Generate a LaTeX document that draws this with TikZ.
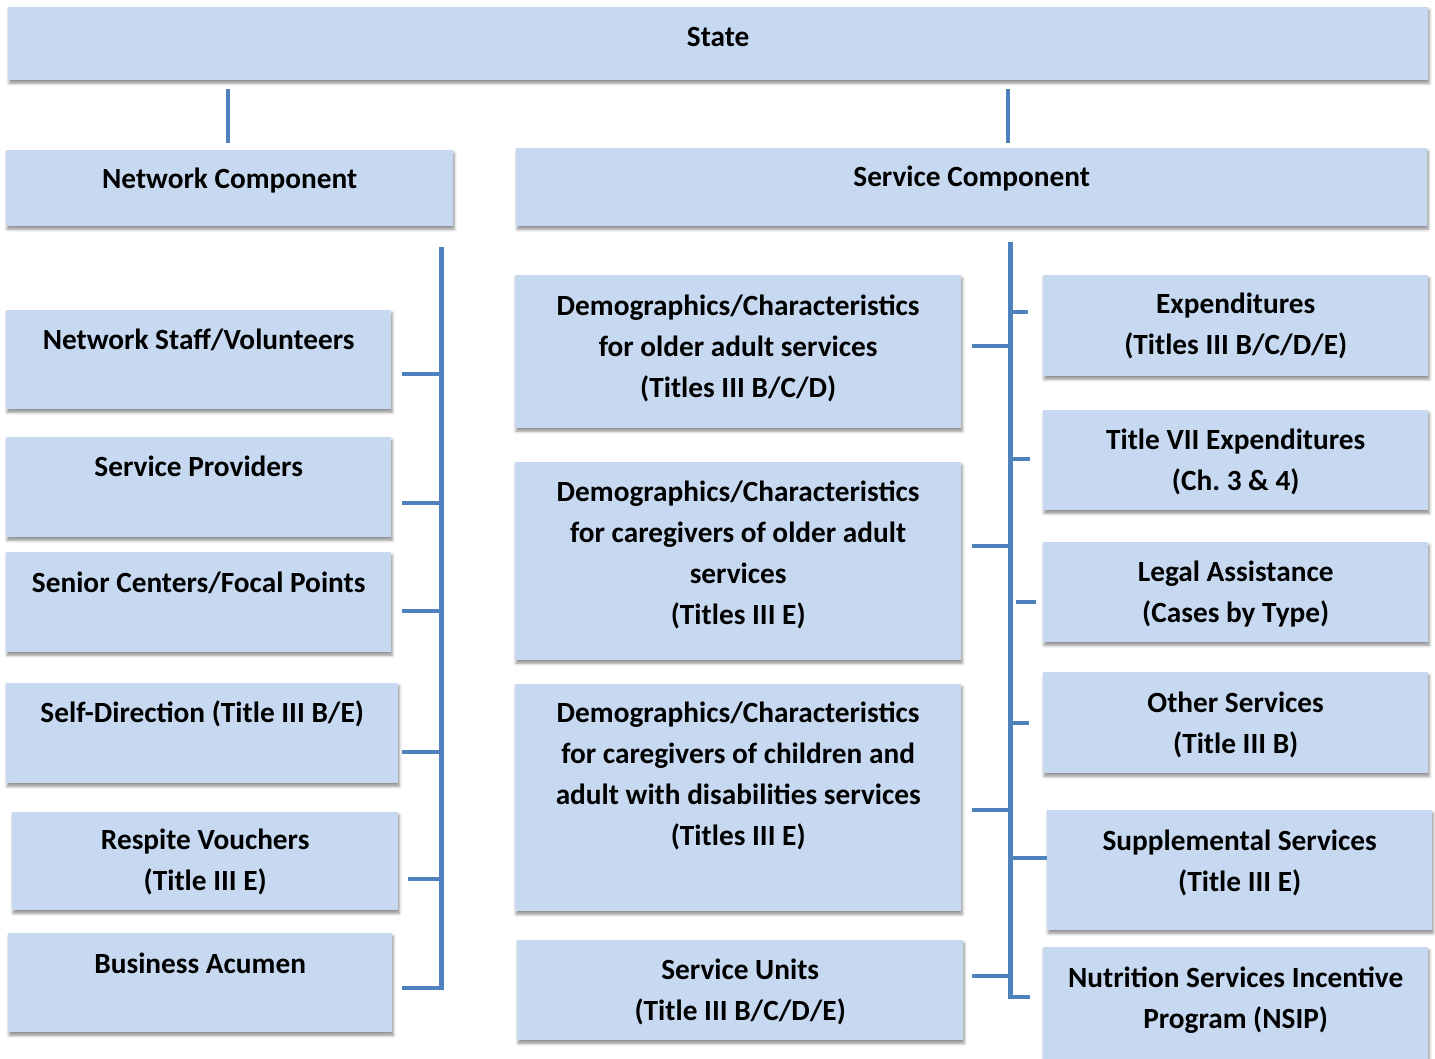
\documentclass[tikz,border=0pt]{standalone}
\usepackage{fontspec}
\setmainfont{Carlito}
\usepackage{xcolor}
\usetikzlibrary{positioning,calc,shadows.blur}
\definecolor{boxblue}{HTML}{C6D9F1}
\definecolor{linkblue}{HTML}{4F81BD}
\tikzset{
  box/.style={fill=boxblue, anchor=north west, inner sep=0pt,
    blur shadow={shadow xshift=1pt, shadow yshift=-3pt, shadow blur radius=3pt, shadow opacity=45}},
  lbl/.style={anchor=base, align=center, inner sep=0pt, font=\fontsize{29.3}{41}\selectfont\bfseries},
  link/.style={draw=linkblue, line width=4pt},
  bus/.style={draw=linkblue, line width=5pt}
}

\begin{document}
\begin{tikzpicture}[x=1pt,y=-1pt]
    \useasboundingbox (0,0) rectangle (1435,1059);

    % Top level
    \node[box, minimum width=1420pt, minimum height=73pt] (state) at (8,7) {};
    \node[lbl] (state-t) at ([yshift=-40pt]state.north) {State};

    \node[box, minimum width=447pt, minimum height=76pt] (net) at (6,150) {};
    \node[lbl] (net-t) at ([yshift=-39pt]net.north) {Network Component};
    \node[box, minimum width=911pt, minimum height=78pt] (serv) at (516,148) {};
    \node[lbl] (serv-t) at ([yshift=-39pt]serv.north) {Service Component};

    % Network column
    \node[box, minimum width=385pt, minimum height=99pt] (staff) at (6,310) {};
    \node[lbl] (staff-t) at ([yshift=-39pt]staff.north) {Network Staff/Volunteers};
    \node[box, minimum width=385pt, minimum height=100pt] (prov) at (6,437) {};
    \node[lbl] (prov-t) at ([yshift=-39pt]prov.north) {Service Providers};
    \node[box, minimum width=385pt, minimum height=100pt] (senior) at (6,552) {};
    \node[lbl] (senior-t) at ([yshift=-40pt]senior.north) {Senior Centers/Focal Points};
    \node[box, minimum width=392pt, minimum height=100pt] (selfdir) at (6,683) {};
    \node[lbl] (selfdir-t) at ([yshift=-39pt]selfdir.north) {Self-Direction (Title III B/E)};
    \node[box, minimum width=386pt, minimum height=98pt] (respite) at (12,812) {};
    \node[lbl] (respite-t) at ([yshift=-78pt]respite.north) {Respite Vouchers\\(Title III E)};
    \node[box, minimum width=384pt, minimum height=99pt] (acumen) at (8,933) {};
    \node[lbl] (acumen-t) at ([yshift=-40pt]acumen.north) {Business Acumen};

    % Demographics column (base = last line)
    \node[box, minimum width=446pt, minimum height=153pt] (older) at (515,275) {};
    \node[lbl] (older-t) at ([yshift=-122pt]older.north) {Demographics/Characteristics\\for older adult services\\(Titles III B/C/D)};
    \node[box, minimum width=446pt, minimum height=198pt] (carer) at (515,462) {};
    \node[lbl] (carer-t) at ([yshift=-162pt]carer.north) {Demographics/Characteristics\\for caregivers of older adult\\services\\(Titles III E)};
    \node[box, minimum width=446pt, minimum height=227pt] (disab) at (515,684) {};
    \node[lbl] (disab-t) at ([yshift=-161pt]disab.north) {Demographics/Characteristics\\for caregivers of children and\\adult with disabilities services\\(Titles III E)};
    \node[box, minimum width=446pt, minimum height=100pt] (units) at (517,940) {};
    \node[lbl] (units-t) at ([yshift=-80pt]units.north) {Service Units\\(Title III B/C/D/E)};

    % Expenditure column
    \node[box, minimum width=385pt, minimum height=101pt] (expend) at (1043,275) {};
    \node[lbl] (expend-t) at ([yshift=-80pt]expend.north) {Expenditures\\(Titles III B/C/D/E)};
    \node[box, minimum width=385pt, minimum height=100pt] (titlevii) at (1043,410) {};
    \node[lbl] (titlevii-t) at ([yshift=-80pt]titlevii.north) {Title VII Expenditures\\(Ch.\ 3 \& 4)};
    \node[box, minimum width=385pt, minimum height=100pt] (legal) at (1043,542) {};
    \node[lbl] (legal-t) at ([yshift=-80pt]legal.north) {Legal Assistance\\(Cases by Type)};
    \node[box, minimum width=385pt, minimum height=101pt] (other) at (1043,672) {};
    \node[lbl] (other-t) at ([yshift=-81pt]other.north) {Other Services\\(Title III B)};
    \node[box, minimum width=385pt, minimum height=120pt] (supp) at (1047,810) {};
    \node[lbl] (supp-t) at ([yshift=-81pt]supp.north) {Supplemental Services\\(Title III E)};
    \node[box, minimum width=385pt, minimum height=130pt] (nsip) at (1043,947) {};
    \node[lbl] (nsip-t) at ([yshift=-81pt]nsip.north) {Nutrition Services Incentive\\Program (NSIP)};

    % Connectors
    \coordinate (ltop) at (441,247);
    \coordinate (lbot) at (441,990);
    \coordinate (rtop) at (1010,242);
    \coordinate (rbot) at (1010,999);
    \coordinate (lstub) at (402,0);
    \coordinate (mstub) at (972,0);
    \coordinate (ntop) at (228,0);
    \coordinate (stop) at (1008,0);

    \draw[link] ([yshift=-9pt]state.south -| ntop) -- ([yshift=7pt]net.north -| ntop);
    \draw[link] ([yshift=-9pt]state.south -| stop) -- ([yshift=5pt]serv.north -| stop);
    \draw[bus] (ltop) -- (lbot);
    \draw[bus] (rtop) -- (rbot);

    \foreach \yy in {374, 503, 611, 752, 988}
        \draw[link] (lstub |- 0,\yy) -- (ltop |- 0,\yy);
    \draw[link] ([xshift=10pt]respite.east |- 0,879) -- (ltop |- 0,879);

    \foreach \yy in {346, 546, 810, 976}
        \draw[link] (mstub |- 0,\yy) -- (rtop |- 0,\yy);

    \foreach \yy/\xx in {312/1028, 459/1030, 723/1029, 997/1030}
        \draw[link] (rtop |- 0,\yy) -- (\xx,\yy);
    \draw[link] (rtop |- 0,858) -- (supp.west |- 0,858);
    \draw[link] (1016,602) -- (1036,602);
\end{tikzpicture}
\end{document}
